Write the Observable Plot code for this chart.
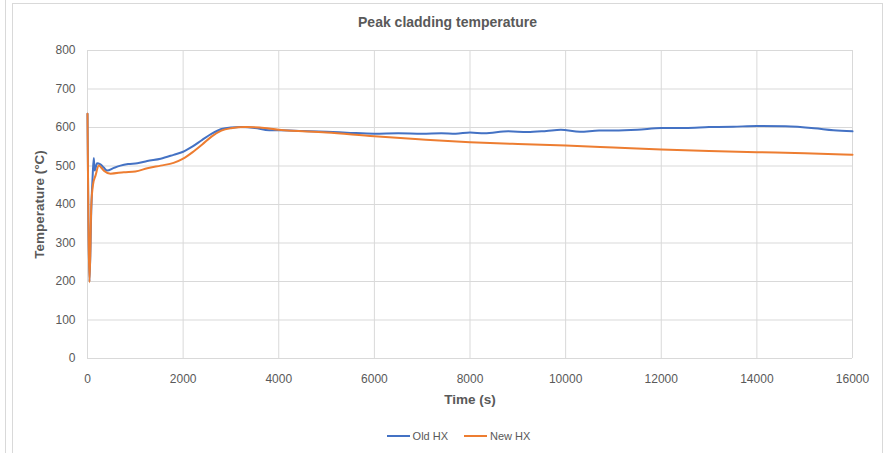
<!DOCTYPE html>
<html>
<head>
<meta charset="utf-8">
<script src="https://cdn.jsdelivr.net/npm/d3@7"></script>
<script src="https://cdn.jsdelivr.net/npm/@observablehq/plot@0.6"></script>
<style>
  html, body { margin: 0; padding: 0; background: #fff; }
  #page { position: relative; width: 887px; height: 453px; overflow: hidden; font-family: "Liberation Sans", Arial, sans-serif; }
  #edge { position: absolute; left: 5px; top: 0; width: 0; height: 453px; border-left: 1px solid #d9d9d9; }
  #frame { position: absolute; left: 12px; top: 3px; width: 869px; height: 460px; border: 1px solid #d9d9d9; }
  #title { position: absolute; left: 0; top: 14px; width: 887px; text-align: center; font-size: 14px; font-weight: bold; color: #595959; padding-left: 8px; box-sizing: border-box; }
  #chart { position: absolute; left: 0; top: 40px; }
  #legend { position: absolute; left: 0; top: 430px; width: 887px; display: flex; justify-content: center; gap: 16px; font-size: 11px; color: #595959; padding-left: 30px; box-sizing: border-box; }
  .item { display: flex; align-items: center; gap: 3px; }
  .swatch { width: 23px; height: 2px; }
</style>
</head>
<body>
<div id="page">
  <div id="edge"></div>
  <div id="frame"></div>
  <div id="title">Peak cladding temperature</div>
  <div id="chart"></div>
  <div id="legend"></div>
</div>
<script>
const seriesNames = ["Old HX", "New HX"];
const seriesColors = ["#4472C4", "#ED7D31"];

const oldTime = [0, 42, 80, 110, 132, 150, 200, 270, 340, 410, 550, 690, 850, 1040, 1250, 1530, 1800, 2000, 2200, 2400, 2600, 2800, 3000, 3200, 3500, 3800, 4000, 4500, 5000, 5500, 6000, 6500, 7000, 7400, 7700, 8000, 8300, 8800, 9200, 9600, 9900, 10300, 10700, 11000, 11500, 12000, 12500, 13000, 13500, 14000, 14600, 15200, 15600, 16000];
const oldTemp = [636, 200, 390, 480, 521, 488, 507, 504, 496, 488, 495, 501, 505, 507, 513, 519, 529, 537, 551, 568, 584, 596, 600, 601, 599, 593, 593, 591, 589, 586, 584, 585, 584, 585, 584, 587, 585, 590, 588, 591, 594, 589, 592, 592, 594, 599, 599, 601, 602, 604, 603, 598, 593, 590];

const newTime = [0, 42, 80, 119, 167, 237, 280, 350, 481, 760, 1000, 1250, 1530, 1800, 2000, 2200, 2400, 2600, 2800, 3000, 3300, 3600, 4000, 5000, 6000, 7000, 8000, 9000, 10000, 11000, 12000, 13000, 14000, 15000, 16000];
const newTemp = [636, 198, 400, 454, 475, 501, 497, 487, 480, 484, 486, 494, 501, 508, 519, 536, 556, 577, 592, 598, 601, 600, 594, 587, 577, 569, 562, 557, 553, 548, 543, 539, 536, 533, 529];

const xTicks = [0, 2000, 4000, 6000, 8000, 10000, 12000, 14000, 16000];
const yTicks = [0, 100, 200, 300, 400, 500, 600, 700, 800];

const oldData = oldTime.map((t, i) => ({t, v: oldTemp[i]}));
const newData = newTime.map((t, i) => ({t, v: newTemp[i]}));

const chart = Plot.plot({
  width: 887,
  height: 375,
  marginLeft: 87,
  marginRight: 35,
  marginTop: 10,
  marginBottom: 57,
  style: { fontFamily: "Liberation Sans, Arial, sans-serif", fontSize: "12px", color: "#595959", background: "transparent" },
  x: { domain: [0, 16000] },
  y: { domain: [0, 800] },
  marks: [
    Plot.gridX(xTicks, { stroke: "#d9d9d9", strokeOpacity: 1 }),
    Plot.gridY(yTicks, { stroke: "#d9d9d9", strokeOpacity: 1 }),
    Plot.axisX({ ticks: xTicks, tickFormat: d => String(d), tickSize: 0, tickPadding: 16, label: "Time (s)", labelAnchor: "center", labelArrow: "none", labelOffset: 45, fontSize: 12 }),
    Plot.axisY({ ticks: yTicks, tickFormat: d => String(d), tickSize: 0, tickPadding: 12, label: "Temperature (°C)", labelAnchor: "center", labelArrow: "none", labelOffset: 53, fontSize: 12 }),
    Plot.lineY(oldData, { x: "t", y: "v", stroke: seriesColors[0], strokeWidth: 2, curve: "monotone-x" }),
    Plot.lineY(newData, { x: "t", y: "v", stroke: seriesColors[1], strokeWidth: 2, curve: "monotone-x" })
  ]
});
chart.querySelectorAll("[aria-label='x-axis label'] text, [aria-label='y-axis label'] text").forEach(t => { t.setAttribute("font-weight", "bold"); t.setAttribute("font-size", "13.5"); });
document.getElementById("chart").appendChild(chart);

const legend = document.getElementById("legend");
seriesNames.forEach((name, i) => {
  const item = document.createElement("div");
  item.className = "item";
  const sw = document.createElement("div");
  sw.className = "swatch";
  sw.style.background = seriesColors[i];
  const label = document.createElement("span");
  label.textContent = name;
  item.appendChild(sw);
  item.appendChild(label);
  legend.appendChild(item);
});
</script>
</body>
</html>
